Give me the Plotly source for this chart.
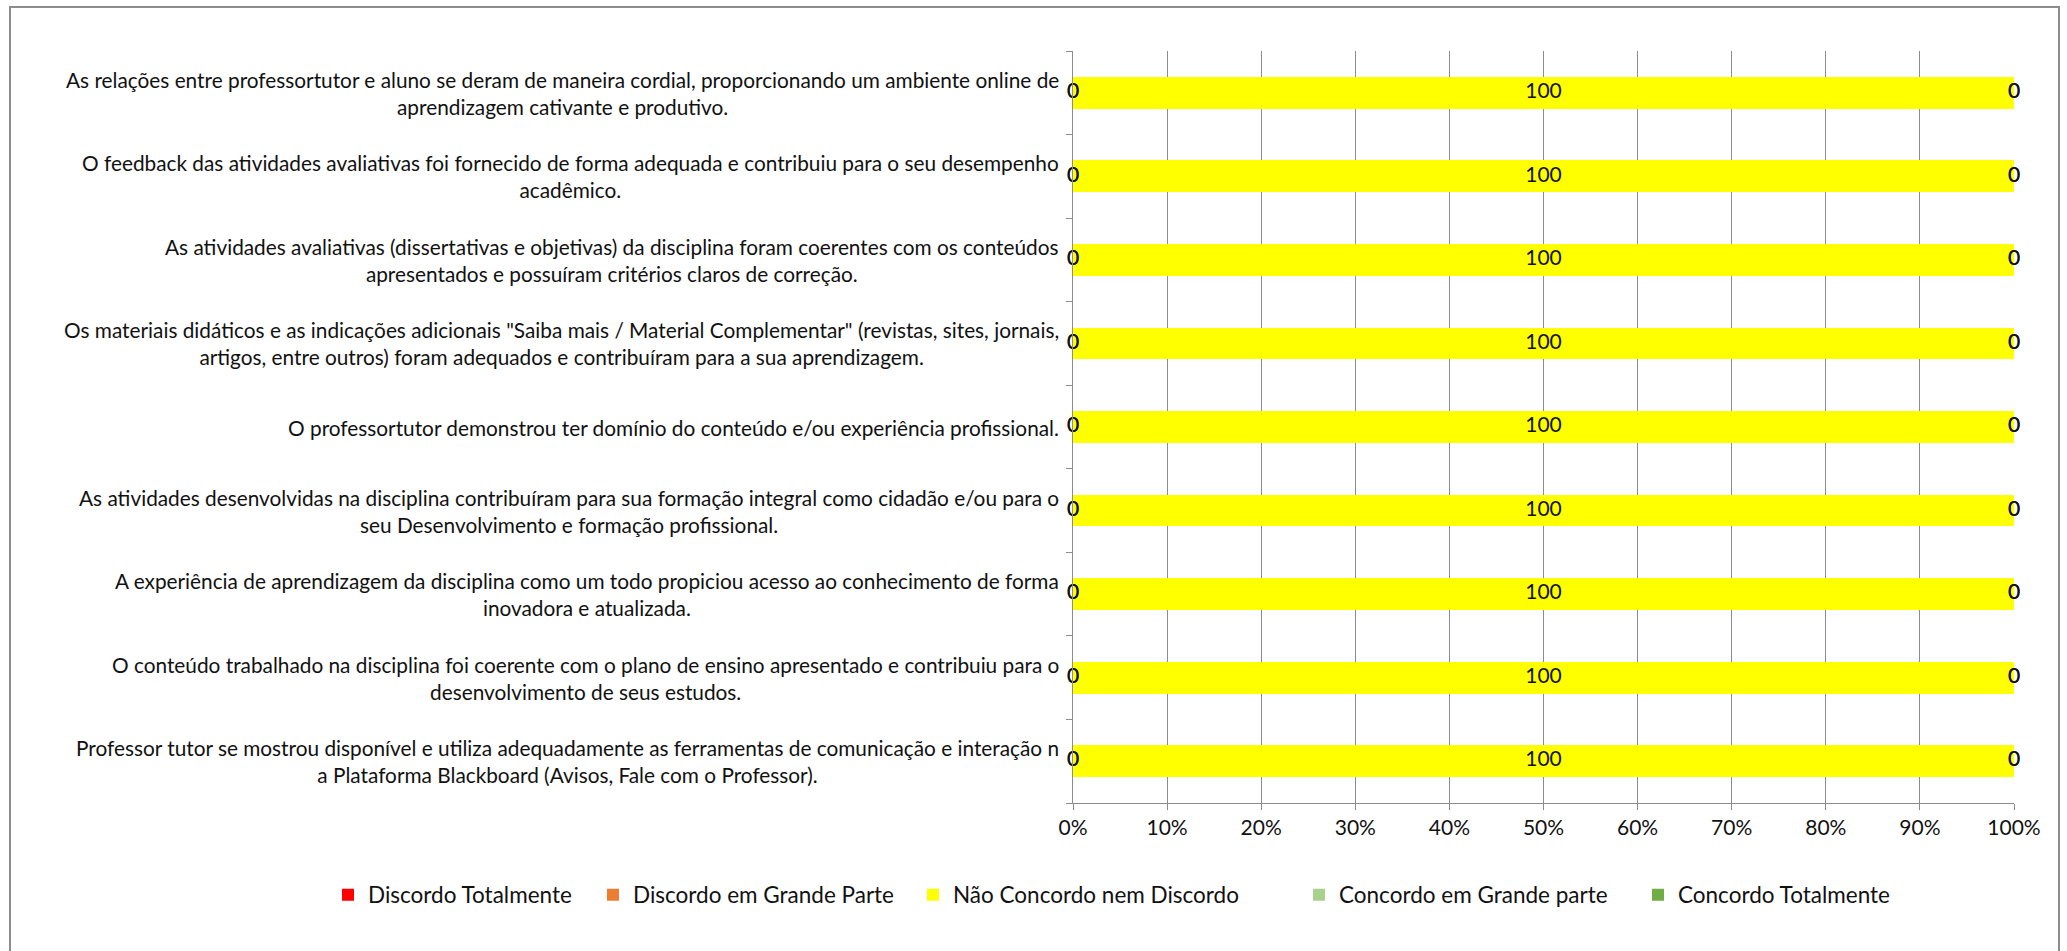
import plotly.graph_objects as go

# ---------------- data ----------------
categories = [
    "As relações entre professortutor e aluno se deram de maneira cordial, proporcionando um ambiente online de<br>aprendizagem cativante e produtivo.",
    "O feedback das atividades avaliativas foi fornecido de forma adequada e contribuiu para o seu desempenho<br>acadêmico.",
    "As atividades avaliativas (dissertativas e objetivas) da disciplina foram coerentes com os conteúdos<br>apresentados e possuíram critérios claros de correção.",
    "Os materiais didáticos e as indicações adicionais \"Saiba mais / Material Complementar\" (revistas, sites, jornais,<br>artigos, entre outros) foram adequados e contribuíram para a sua aprendizagem.",
    "O professortutor demonstrou ter domínio do conteúdo e/ou experiência profissional.",
    "As atividades desenvolvidas na disciplina contribuíram para sua formação integral como cidadão e/ou para o<br>seu Desenvolvimento e formação profissional.",
    "A experiência de aprendizagem da disciplina como um todo propiciou acesso ao conhecimento de forma<br>inovadora e atualizada.",
    "O conteúdo trabalhado na disciplina foi coerente com o plano de ensino apresentado e contribuiu para o<br>desenvolvimento de seus estudos.",
    "Professor tutor se mostrou disponível e utiliza adequadamente as ferramentas de comunicação e interação n<br>a Plataforma Blackboard (Avisos, Fale com o Professor).",
]
series_names = [
    "Discordo Totalmente",
    "Discordo em Grande Parte",
    "Não Concordo nem Discordo",
    "Concordo em Grande parte",
    "Concordo Totalmente",
]
discordo_totalmente = [0, 0, 0, 0, 0, 0, 0, 0, 0]
discordo_grande_parte = [0, 0, 0, 0, 0, 0, 0, 0, 0]
nao_concordo_nem_discordo = [100, 100, 100, 100, 100, 100, 100, 100, 100]
concordo_grande_parte = [0, 0, 0, 0, 0, 0, 0, 0, 0]
concordo_totalmente = [0, 0, 0, 0, 0, 0, 0, 0, 0]
x_tick_values = [0, 10, 20, 30, 40, 50, 60, 70, 80, 90, 100]
x_tick_labels = ["0%", "10%", "20%", "30%", "40%", "50%", "60%", "70%", "80%", "90%", "100%"]

series_values = [discordo_totalmente, discordo_grande_parte, nao_concordo_nem_discordo,
                 concordo_grande_parte, concordo_totalmente]
colors = ["#FF0000", "#ED7D31", "#FFFF00", "#A9D18E", "#70AD47"]

# ---------------- layout geometry ----------------
W_FIG, H_FIG = 2067, 951
L, R, T, B = 1073, 2014, 51, 803
PW, PH = R - L, B - T


def px_x(px):
    return (px - L) / PW


def px_y(py):
    return (B - py) / PH


FONT = "Lato, Liberation Sans Narrow, sans-serif"
FS = 20.8
TXT = "#111111"

ids = list(range(len(categories)))

fig = go.Figure()
legend_keys = ["legend", "legend2", "legend3", "legend4", "legend5"]
for name, vals, col, lk in zip(series_names, series_values, colors, legend_keys):
    fig.add_trace(go.Bar(
        y=ids, x=vals, name=name, orientation="h",
        marker=dict(color=col, line=dict(width=0)),
        width=0.38, legend=lk, hoverinfo="x+name",
    ))

# data labels (computed from cumulative stacks)
cum = [0.0] * len(categories)
for name, vals in zip(series_names, series_values):
    xs = [c + v / 2 for c, v in zip(cum, vals)]
    fig.add_trace(go.Scatter(
        y=ids, x=xs, mode="text", text=[str(v) for v in vals],
        textposition="middle center",
        textfont=dict(family=FONT, size=21, color=TXT),
        showlegend=False, cliponaxis=False, hoverinfo="skip",
    ))
    cum = [c + v for c, v in zip(cum, vals)]

# category labels (centered multi-line, right anchored like Excel)
annotations = []
for i, lab in enumerate(categories):
    annotations.append(dict(
        x=px_x(1061), xref="paper", y=i, yref="y",
        text=lab, showarrow=False, xanchor="right", yanchor="middle",
        align="center", font=dict(family=FONT, size=FS, color=TXT),
    ))

legend_text_starts = [369, 634, 954, 1340, 1679]
legend_layouts = {}
for lk, ts in zip(legend_keys, legend_text_starts):
    legend_layouts[lk] = dict(
        x=px_x(ts - 41), xanchor="left", y=px_y(895), yanchor="middle",
        orientation="h", font=dict(family=FONT, size=22.5, color=TXT),
        bgcolor="rgba(0,0,0,0)", borderwidth=0, itemwidth=30,
    )

fig.update_layout(
    width=W_FIG, height=H_FIG,
    margin=dict(l=L, r=W_FIG - R, t=T, b=H_FIG - B, pad=0, autoexpand=False),
    barmode="stack",
    paper_bgcolor="white", plot_bgcolor="white",
    font=dict(family=FONT, size=FS, color=TXT),
    annotations=annotations,
    shapes=[dict(type="rect", xref="paper", yref="paper",
                 x0=px_x(10), x1=px_x(2059), y0=px_y(962), y1=px_y(7),
                 line=dict(color="#8c8c8c", width=2), layer="below")],
    **legend_layouts,
)
fig.update_xaxes(
    range=[0, 100], tickvals=x_tick_values, ticktext=x_tick_labels,
    showgrid=True, gridcolor="#8c8c8c", gridwidth=1,
    showline=True, linecolor="#8c8c8c", linewidth=1,
    ticks="outside", ticklen=6, tickcolor="#8c8c8c",
    zeroline=False, tickfont=dict(family=FONT, size=21, color=TXT),
    fixedrange=True,
)
fig.update_yaxes(
    type="linear", range=[len(categories) - 0.5, -0.5],
    tickvals=[i - 0.5 for i in range(len(categories) + 1)],
    showticklabels=False, ticks="outside", ticklen=6, tickcolor="#8c8c8c",
    showgrid=False, zeroline=False,
    showline=True, linecolor="#8c8c8c", linewidth=1, fixedrange=True,
)

fig.write_html(
    "out.html",
    config={"displayModeBar": False},
    post_script="document.body.style.margin='0';document.body.style.overflow='hidden';",
)
